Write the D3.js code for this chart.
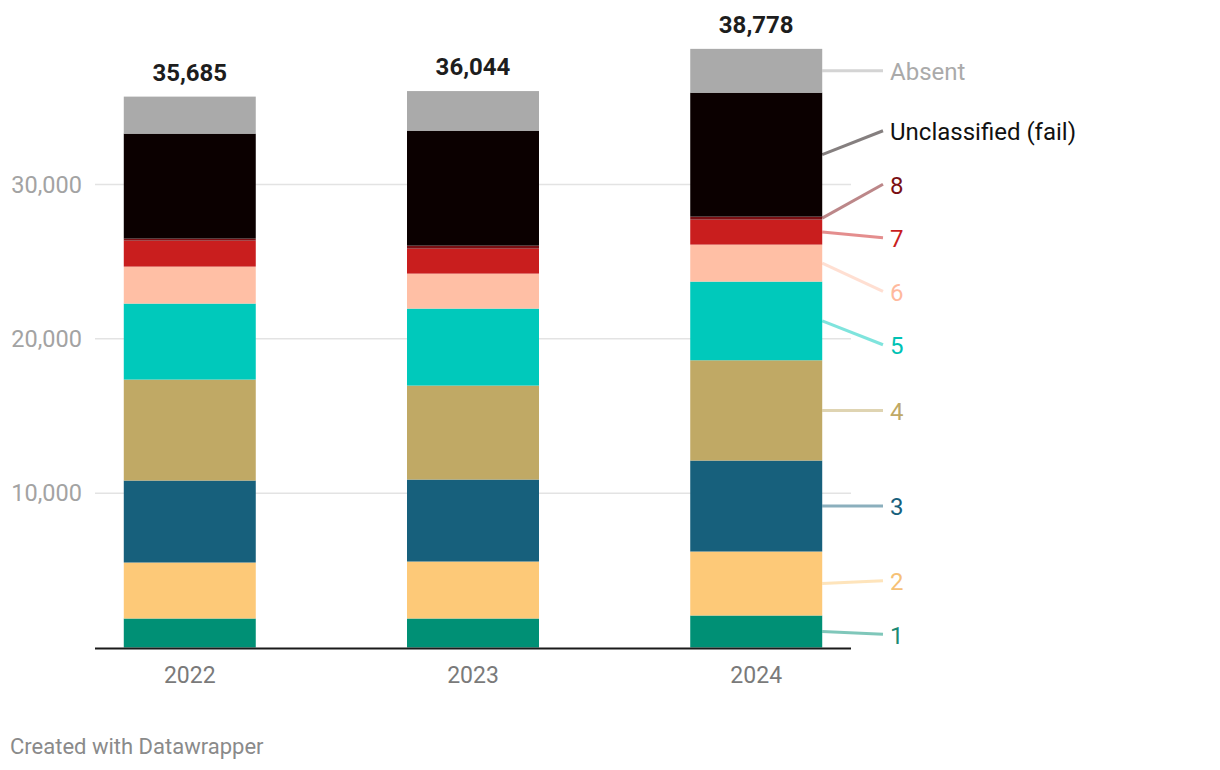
<!DOCTYPE html>
<html>
<head>
<meta charset="utf-8">
<script src="https://cdn.jsdelivr.net/npm/d3@7"></script>
<style>
  html, body { margin: 0; padding: 0; background: #fff; }
  svg { display: block; font-family: Roboto, "Noto Sans", sans-serif; }
</style>
</head>
<body>
<svg id="chart" width="1220" height="770"></svg>
<script>
// ---- data ----
const years = ["2022", "2023", "2024"];
const seriesNames = ["1", "2", "3", "4", "5", "6", "7", "8", "Unclassified (fail)", "Absent"];
const s1 = [1878, 1878, 2072];
const s2 = [3627, 3691, 4145];
const s3 = [5310, 5310, 5893];
const s4 = [6541, 6087, 6496];
const s5 = [4922, 4987, 5097];
const s6 = [2396, 2267, 2396];
const s7 = [1684, 1619, 1619];
const s8 = [130, 194, 194];
const sUnclassified = [6800, 7447, 8030];
const sAbsent = [2397, 2564, 2836];
const totals = [35685, 36044, 38778];
const yTicks = [10000, 20000, 30000];
const seriesColors = ["#009075", "#fdc978", "#17607c", "#c0a965", "#00c9bb", "#ffbfa5", "#c91e1e", "#7a0f13", "#0b0000", "#aaaaaa"];
const labelColors = ["#1a8a74", "#f6c176", "#17607c", "#c0a965", "#00c2b4", "#ffb99d", "#c91e1e", "#7a0f13", "#111111", "#aaaaaa"];

const seriesValues = [s1, s2, s3, s4, s5, s6, s7, s8, sUnclassified, sAbsent];
const table = years.map((y, i) => {
  const row = { year: y };
  seriesNames.forEach((n, k) => row[n] = seriesValues[k][i]);
  return row;
});

const svg = d3.select("#chart");
const x = d3.scaleBand().domain(years).range([95, 851]).paddingInner(0.534).paddingOuter(0.1016);
const y = d3.scaleLinear().domain([0, 40000]).range([647.5, 30]);

// gridlines
svg.append("g").selectAll("line").data(yTicks).join("line")
  .attr("x1", 95).attr("x2", 851)
  .attr("y1", d => y(d)).attr("y2", d => y(d))
  .attr("stroke", "#e3e3e3").attr("stroke-width", 1.5);

// y tick labels
const fmt = d3.format(",");
svg.append("g").selectAll("text").data(yTicks).join("text")
  .attr("x", 82).attr("y", d => y(d)).attr("dy", "0.35em")
  .attr("text-anchor", "end")
  .attr("fill", "#a3a3a3").attr("font-size", 23.5)
  .text(d => fmt(d));

// stacks
const stack = d3.stack().keys(seriesNames);
const stacked = stack(table);
const color = d3.scaleOrdinal().domain(seriesNames).range(seriesColors);

svg.append("g").selectAll("g").data(stacked).join("g")
  .attr("fill", d => color(d.key))
  .selectAll("rect").data(d => d).join("rect")
  .attr("x", d => x(d.data.year))
  .attr("width", x.bandwidth())
  .attr("y", d => y(d[1]))
  .attr("height", d => y(d[0]) - y(d[1]));

// baseline
svg.append("line").attr("x1", 95).attr("x2", 851)
  .attr("y1", y(0) + 1).attr("y2", y(0) + 1)
  .attr("stroke", "#1a1a1a").attr("stroke-width", 2);

// x labels
svg.append("g").selectAll("text").data(years).join("text")
  .attr("x", d => x(d) + x.bandwidth() / 2).attr("y", 675).attr("dy", "0.35em")
  .attr("text-anchor", "middle").attr("fill", "#7a7a7a").attr("font-size", 23)
  .text(d => d);

// totals
svg.append("g").selectAll("text").data(totals).join("text")
  .attr("x", (d, i) => x(years[i]) + x.bandwidth() / 2)
  .attr("y", (d, i) => y(d) - 16)
  .attr("text-anchor", "middle").attr("fill", "#1d1d1d")
  .attr("font-size", 24).attr("font-weight", "bold")
  .text(d => fmt(d));

// direct labels for last bar with simple collision avoidance
const last = years.length - 1;
const gap = 53.5;
const nodes = stacked.map((s, k) => ({
  key: s.key, k,
  target: (y(s[last][0]) + y(s[last][1])) / 2
})).sort((a, b) => a.target - b.target);

let clusters = nodes.map(n => ({ items: [n] }));
function place(c) {
  const mean = d3.mean(c.items, d => d.target);
  c.items.forEach((d, i) => d.pos = mean + (i - (c.items.length - 1) / 2) * gap);
}
clusters.forEach(place);
let merged = true;
while (merged) {
  merged = false;
  for (let i = 0; i < clusters.length - 1; i++) {
    const a = clusters[i], b = clusters[i + 1];
    if (b.items[0].pos - a.items[a.items.length - 1].pos < gap) {
      const c = { items: a.items.concat(b.items) };
      place(c);
      clusters.splice(i, 2, c);
      merged = true;
      break;
    }
  }
}

const barRight = x(years[last]) + x.bandwidth();
const lg = svg.append("g");
lg.selectAll("line").data(nodes).join("line")
  .attr("x1", barRight).attr("y1", d => d.target)
  .attr("x2", 883).attr("y2", d => d.pos)
  .attr("stroke", d => seriesColors[d.k]).attr("stroke-opacity", 0.5)
  .attr("stroke-width", 3);
lg.selectAll("text").data(nodes).join("text")
  .attr("x", 890).attr("y", d => d.pos + 1).attr("dy", "0.35em")
  .attr("fill", d => labelColors[d.k]).attr("font-size", 24)
  .text(d => d.key);

// footer
svg.append("text").attr("x", 10).attr("y", 746).attr("dy", "0.35em")
  .attr("fill", "#8a8a8a").attr("font-size", 22)
  .text("Created with Datawrapper");
</script>
</body>
</html>
